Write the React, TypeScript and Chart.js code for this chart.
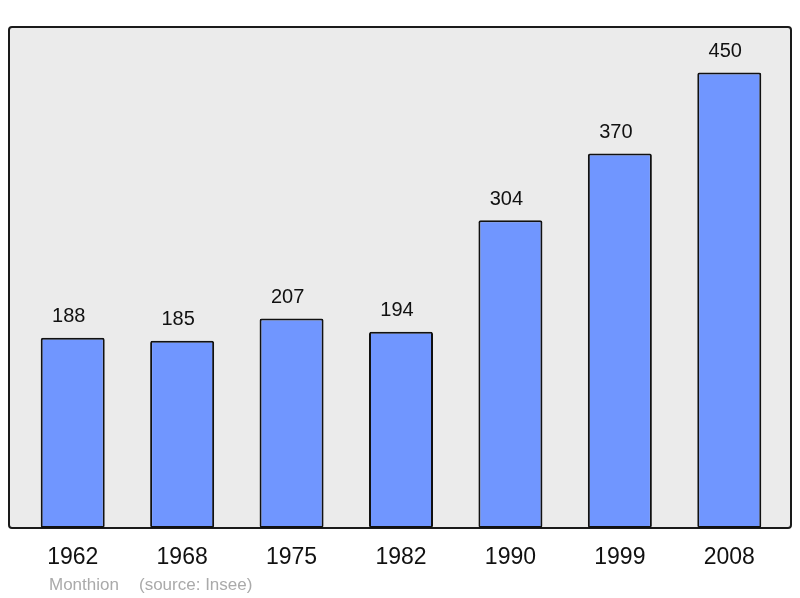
import React, { useEffect, useRef } from "react";
import { Chart, registerables } from "chart.js";

Chart.register(...registerables);

const years = ["1962", "1968", "1975", "1982", "1990", "1999", "2008"];
const population = [188, 185, 207, 194, 304, 370, 450];
const place = "Monthion";
const source = "(source: Insee)";

const FONT = '"Liberation Sans", Arial, sans-serif';

const framePlugin = {
  id: "frame",
  beforeDraw(chart: any) {
    const { ctx, chartArea } = chart;
    const x0 = chartArea.left - 9;
    const x1 = chartArea.right + 7;
    const y0 = chartArea.top;
    const y1 = chartArea.bottom;
    ctx.save();
    ctx.beginPath();
    if ((ctx as any).roundRect) {
      (ctx as any).roundRect(x0, y0, x1 - x0, y1 - y0, 3);
    } else {
      ctx.rect(x0, y0, x1 - x0, y1 - y0);
    }
    ctx.fillStyle = "#ebebeb";
    ctx.fill();
    ctx.lineWidth = 2;
    ctx.strokeStyle = "#1a1a1a";
    ctx.stroke();
    ctx.restore();
  },
  afterDatasetsDraw(chart: any) {
    const { ctx, chartArea } = chart;
    const meta = chart.getDatasetMeta(0);
    const xScale = chart.scales.x;
    ctx.save();
    ctx.fillStyle = "#111";
    ctx.textAlign = "center";
    ctx.textBaseline = "middle";
    ctx.font = `20px ${FONT}`;
    meta.data.forEach((bar: any, i: number) => {
      ctx.fillText(String(population[i]), bar.x - 4, bar.y - 21);
    });
    ctx.font = `23px ${FONT}`;
    years.forEach((y, i) => {
      ctx.fillText(y, xScale.getPixelForValue(i), chartArea.bottom + 30);
    });
    ctx.fillStyle = "#aaaaaa";
    ctx.textAlign = "left";
    ctx.font = `17px ${FONT}`;
    ctx.fillText(place, chartArea.left + 31, chartArea.bottom + 57);
    ctx.fillText(source, chartArea.left + 121, chartArea.bottom + 57);
    ctx.restore();
  },
};

export default function App() {
  const ref = useRef<HTMLCanvasElement>(null);
  useEffect(() => {
    if (!ref.current) return;
    const chart = new Chart(ref.current, {
      type: "bar",
      data: {
        labels: years,
        datasets: [
          {
            data: population,
            backgroundColor: "#7096ff",
            borderColor: "#111111",
            borderWidth: 2,
            borderRadius: 2,
            borderSkipped: false,
            categoryPercentage: 1,
            barPercentage: 0.585,
          },
        ],
      },
      options: {
        responsive: false,
        animation: false,
        layout: { padding: { left: 18, right: 16, top: 27, bottom: 70 } },
        plugins: { legend: { display: false }, tooltip: { enabled: false }, title: { display: false } },
        scales: {
          x: { display: false },
          y: { display: false, min: 0, max: 495 },
        },
      },
      plugins: [framePlugin],
    });
    return () => chart.destroy();
  }, []);
  return (
    <div style={{ position: "absolute", left: 0, top: 0, width: 800, height: 598, background: "#fff" }}>
      <canvas ref={ref} width={800} height={598} />
    </div>
  );
}
